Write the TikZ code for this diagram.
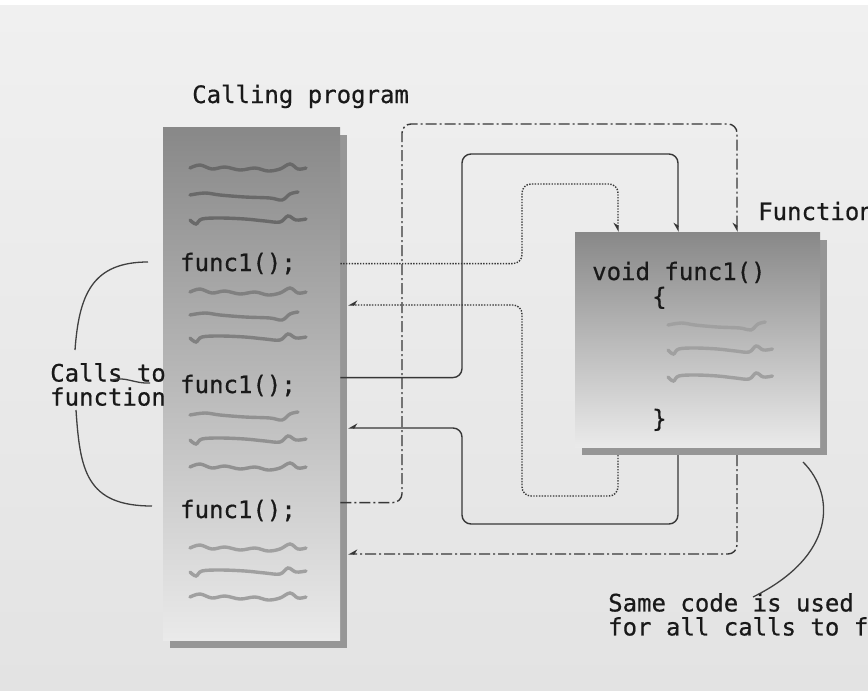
\documentclass[tikz,border=0pt]{standalone}
\usepackage{fontspec}
\setmonofont[FakeBold=0.6]{DejaVu Sans Mono}
\usetikzlibrary{arrows.meta,shadows,positioning}
\definecolor{bgTop}{RGB}{240,240,240}
\definecolor{bgBot}{RGB}{227,227,227}
\definecolor{boxTop}{RGB}{136,136,136}
\definecolor{boxBot}{RGB}{234,234,234}
\definecolor{shadeGray}{RGB}{150,150,150}
\definecolor{wireGray}{RGB}{55,55,55}
\definecolor{scribDark}{RGB}{105,105,105}
\definecolor{scribMid}{RGB}{128,128,128}
\definecolor{scribGray}{RGB}{145,145,145}
\definecolor{scribLight}{RGB}{160,160,160}

\tikzset{
  wavA/.pic={\draw[line width=3.4pt,line cap=round] plot[smooth,tension=0.6] coordinates
    {(0,0) (10,-3) (22,1) (35,-1) (50,2) (65,0) (78,3) (90,1) (100,-4) (108,1) (116,0)};},
  wavB/.pic={\draw[line width=3.4pt,line cap=round] plot[smooth,tension=0.6] coordinates
    {(0,0) (15,-2) (30,0) (55,2) (80,3) (92,5) (100,-1) (108,-3)};},
  wavC/.pic={\draw[line width=3.4pt,line cap=round] plot[smooth,tension=0.6] coordinates
    {(0,0) (6,4) (12,-1) (30,-2) (55,-1) (75,1) (90,2) (98,-4) (106,0) (116,-1)};},
}

\begin{document}
\begin{tikzpicture}[x=1pt,y=-1pt,
    code/.style={font=\fontsize{24}{24}\selectfont\ttfamily,inner sep=0pt,
                 anchor=base west,text=black!90},
    listing/.style={top color=boxTop,bottom color=boxBot,anchor=north west,
                    inner sep=0pt,
                    drop shadow={shadow xshift=7pt,shadow yshift=-8pt,
                                 opacity=1,fill=shadeGray}},
    wire/.style={draw=wireGray,line width=1.4pt,rounded corners=9pt},
    dotwire/.style={wire,dash pattern=on 1.4pt off 1.4pt},
    dashwire/.style={wire,dash pattern=on 11pt off 3pt on 2pt off 3pt},
    tip/.style={-{Stealth[harpoon,swap,length=8pt,width=9pt]}},
    brace/.style={draw=black!75,line width=1.3pt},
  ]

    \useasboundingbox (0,0) rectangle (868,691);
    \clip (0,0) rectangle (868,691);
    \shade[top color=bgTop,bottom color=bgBot] (0,5) rectangle (868,691);

    % Boxes
    \node[listing,minimum width=177pt,minimum height=513pt] (cbox) at (163,127) {};
    \node[listing,minimum width=245pt,minimum height=215pt] (fbox) at (575,232) {};

    % Labels
    \node[code] (title) at (192,103) {Calling program};
    \node[code] (flabel) at (758,220) {Function};
    \node[code,anchor=north west,align=left] (calls) at (50,363) {Calls to\\function};
    \node[code,anchor=north west,align=left] (same) at (608,593)
      {Same code is used\\for all calls to function};

    % Calling program text
    \node[code] (call1) at (180,271) {func1();};
    \node[code] (call2) at (180,393) {func1();};
    \node[code] (call3) at (180,518) {func1();};
    \foreach \y/\w/\c in {168/wavA/scribDark,195/wavB/scribDark,220/wavC/scribDark,
                          292/wavA/scribMid,315/wavB/scribMid,338/wavC/scribMid,
                          415/wavB/scribGray,440/wavC/scribGray,467/wavA/scribGray,
                          548/wavA/scribLight,572/wavC/scribLight,597/wavA/scribLight}
      \pic[color=\c] at (190,\y) {\w};

    % Function text
    \node[code] (head) at (592,280) {void func1()};
    \node[code] (open) at (652,305) {\{};
    \node[code] (close) at (652,427) {\}};
    \foreach \y/\w in {325/wavB,350/wavC,377/wavC}
      \pic[color=scribLight,xscale=0.9] at (668,\y) {\w};

    % Ends on the boxes
    \coordinate (inA)  at (618,232);
    \coordinate (inB)  at (678,232);
    \coordinate (inC)  at (737,232);
    \coordinate (outA) at (618,455);
    \coordinate (outB) at (678,455);
    \coordinate (outC) at (737,455);
    \coordinate (retA) at (348,305);
    \coordinate (retB) at (348,428);
    \coordinate (retC) at (348,554);

    % Calls and returns
    \draw[dotwire,tip] (call1.east -| cbox.east) -| (522,184) -| (inA);
    \draw[dotwire,tip] (outA) |- (522,496) |- (retA);
    \draw[wire,tip] ([yshift=8pt]call2.east -| cbox.east) -| (462,154) -| (inB);
    \draw[wire,tip] (outB) |- (462,524) |- (retB);
    \draw[dashwire,tip] ([yshift=8pt]call3.east -| cbox.east) -| (402,124) -| (inC);
    \draw[dashwire,tip] (outC) |- (retC);

    % Braces
    \draw[brace] (148,262) .. controls (92,262) and (79,295) .. (75,350);
    \draw[brace] (112,380) .. controls (125,376) and (135,384) .. (150,383);
    \draw[brace] (76,410) .. controls (80,470) and (86,506) .. (152,506);
    \draw[brace] (803,462) .. controls (836,495) and (836,556) .. (753,597);

  \end{tikzpicture}
\end{document}
